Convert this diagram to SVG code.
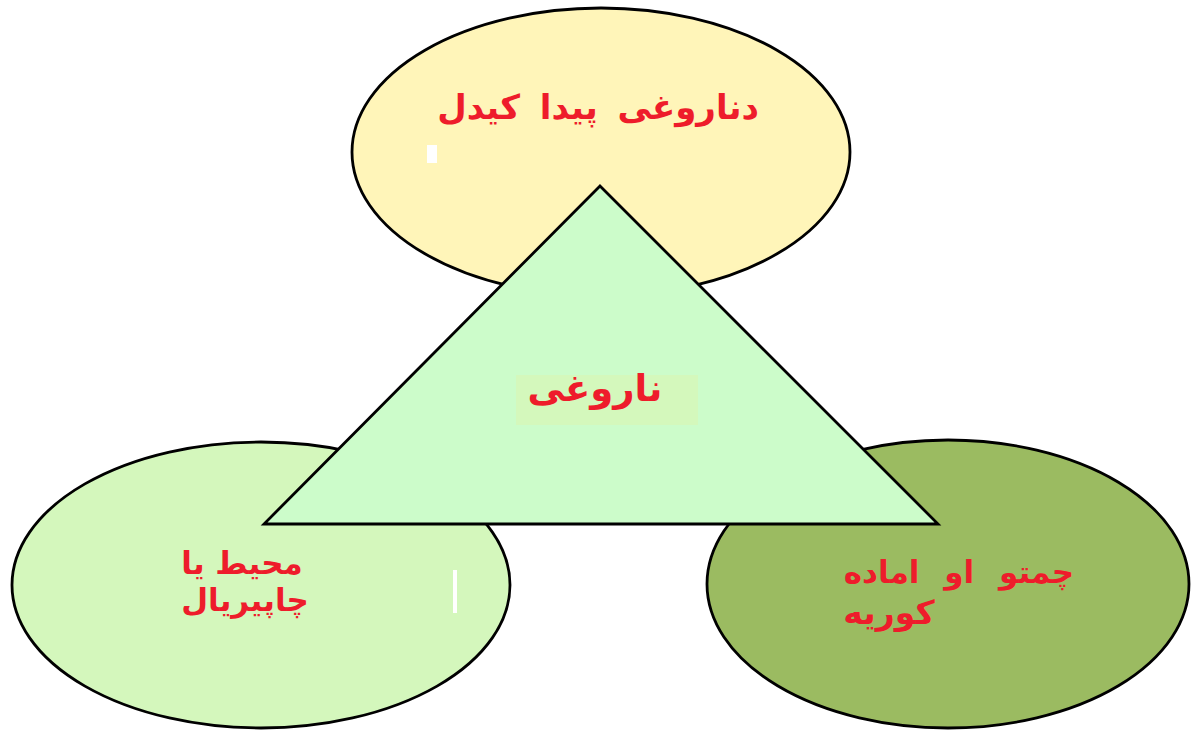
<svg xmlns="http://www.w3.org/2000/svg" width="1195" height="730" viewBox="0 0 1195 730">
<style>
.sh{stroke:#000;stroke-width:2.8}
.t{font-family:"DejaVu Sans",sans-serif;font-weight:bold;font-size:34px;fill:#ee1c2b;text-anchor:middle}
</style>
<rect width="1195" height="730" fill="#fff"/>
<g id="node-top">
<ellipse class="sh" cx="601" cy="152" rx="249" ry="144" fill="#fff5b9"/>
<rect x="427" y="145" width="10" height="18" fill="#fff"/>
<text class="t" x="598" y="119" direction="rtl" word-spacing="8">دناروغی پیدا کیدل</text>
</g>
<g id="node-left">
<ellipse class="sh" cx="261" cy="585" rx="249" ry="143" fill="#d4f7bc"/>
<rect x="453" y="570" width="4" height="43" fill="#fff"/>
<text class="t" x="242" y="574" direction="rtl" style="font-size:31px">محیط یا</text>
<text class="t" x="245" y="611" direction="rtl" style="font-size:31px">چاپیریال</text>
</g>
<g id="node-right">
<ellipse class="sh" cx="948" cy="584" rx="241" ry="144" fill="#9bbb61"/>
<text class="t" x="959" y="583" direction="rtl" word-spacing="14" style="font-size:31px">چمتو او اماده</text>
<text class="t" x="889" y="624" direction="rtl" style="font-size:33px">کوریه</text>
</g>
<g id="node-center">
<polygon class="sh" points="600,186 264,524 938,524" fill="#ccfcca"/>
<rect x="516" y="375" width="182" height="50" fill="#d4f8bc"/>
<text class="t" x="595" y="401" direction="rtl" style="font-size:37px">ناروغی</text>
</g>
<g id="connectors"/>
</svg>
